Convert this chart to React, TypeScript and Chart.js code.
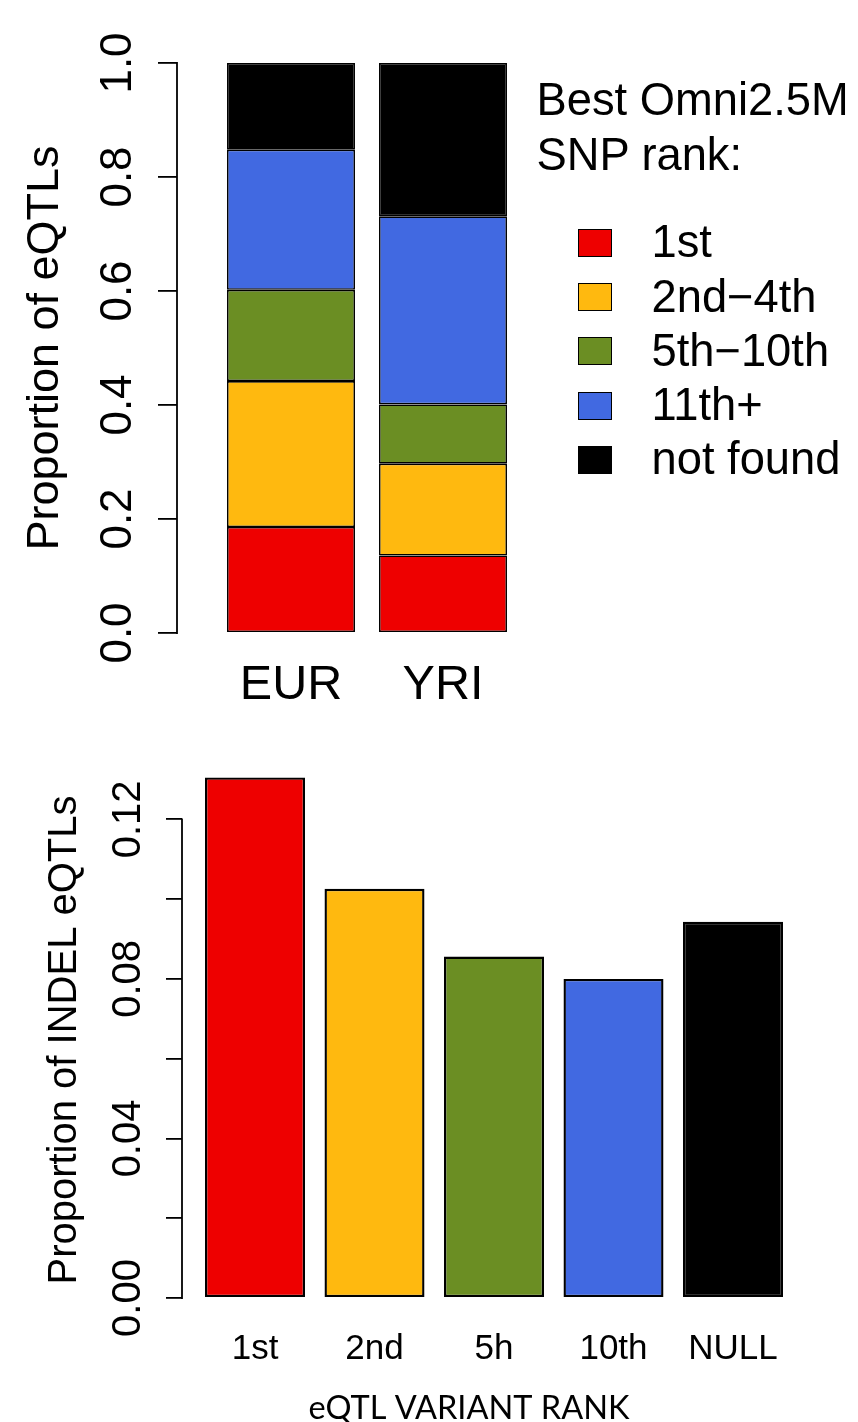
import React, { useEffect, useRef } from 'react';
import { Chart, registerables } from 'chart.js';

Chart.register(...registerables);
Chart.defaults.font.family = '"Liberation Sans", Arial, Helvetica, sans-serif';
Chart.defaults.color = '#000';

// ---------- Top panel: stacked proportions ----------
const populations = ['EUR', 'YRI'];
const rankLabels = ['1st', '2nd\u22124th', '5th\u221210th', '11th+', 'not found'];
const rankColors = ['#EE0000', '#FFB90F', '#6B8E23', '#4169E1', '#000000'];
const firstRank = [0.186, 0.136];
const secondToFourth = [0.256, 0.161];
const fifthToTenth = [0.16, 0.104];
const eleventhPlus = [0.246, 0.33];
const notFound = [0.152, 0.269];
const topTickLabels = ['0.0', '0.2', '0.4', '0.6', '0.8', '1.0'];
const legendTitle = ['Best Omni2.5M', 'SNP rank:'];

// ---------- Bottom panel: INDEL proportions ----------
const variantRanks = ['1st', '2nd', '5h', '10th', 'NULL'];
const indelProportions = [0.1305, 0.1026, 0.0856, 0.08, 0.0943];
const indelColors = ['#EE0000', '#FFB90F', '#6B8E23', '#4169E1', '#000000'];
const bottomTickLabels = ['0.00', '', '0.04', '', '0.08', '', '0.12'];

const axisLinePlugin = {
  id: 'rAxisLine',
  afterDraw(chart: any) {
    const y = chart.scales.y;
    const t = y.ticks;
    if (!t || !t.length) return;
    const ctx = chart.ctx;
    ctx.save();
    ctx.strokeStyle = '#000';
    ctx.lineWidth = 1.8;
    ctx.lineCap = 'square';
    ctx.beginPath();
    ctx.moveTo(y.right, y.getPixelForValue(t[0].value));
    ctx.lineTo(y.right, y.getPixelForValue(t[t.length - 1].value));
    ctx.stroke();
    ctx.restore();
  },
};

function topConfig(): any {
  const series = [firstRank, secondToFourth, fifthToTenth, eleventhPlus, notFound];
  return {
    type: 'bar',
    data: {
      datasets: series.map((vals, s) => ({
        label: rankLabels[s],
        data: vals.map((v, i) => ({ x: i, y: v })),
        backgroundColor: rankColors[s],
        borderColor: '#000',
        borderWidth: 1.6,
        borderSkipped: false,
        barPercentage: 0.842,
        categoryPercentage: 1,
        clip: false,
      })),
    },
    plugins: [axisLinePlugin],
    options: {
      responsive: false,
      animation: false,
      devicePixelRatio: 1,
      layout: { padding: { left: 0, top: 63, right: 323.8, bottom: 0 } },
      plugins: { legend: { display: false }, tooltip: { enabled: false } },
      scales: {
        x: {
          type: 'linear',
          stacked: true,
          offset: false,
          min: -0.75,
          max: 1.6,
          grid: { display: false, drawTicks: false, offset: false },
          border: { display: false },
          ticks: {
            stepSize: 1,
            includeBounds: false,
            autoSkip: false,
            maxRotation: 0,
            padding: 28,
            color: '#000',
            font: { size: 48.5, lineHeight: 1 },
            callback: (v: any) => populations[v] ?? '',
          },
          afterFit: (s: any) => {
            s.height = 87;
          },
        },
        y: {
          stacked: true,
          min: 0,
          max: 1,
          border: { display: false },
          grid: { display: true, drawOnChartArea: false, drawTicks: true, tickLength: 19, color: '#000', lineWidth: 1.8 },
          ticks: {
            stepSize: 0.2,
            autoSkip: false,
            minRotation: 90,
            maxRotation: 90,
            crossAlign: 'center',
            padding: 8.6,
            color: '#000',
            font: { size: 44, lineHeight: 1 },
            callback: (_v: any, i: number) => topTickLabels[i],
          },
          title: {
            display: true,
            text: 'Proportion of eQTLs',
            color: '#000',
            font: { size: 45, lineHeight: 1 },
            padding: { top: 22.6, bottom: 0 },
          },
          afterFit: (s: any) => {
            s.width = 177;
          },
        },
      },
    },
  };
}

function bottomConfig(): any {
  return {
    type: 'bar',
    data: {
      datasets: [
        {
          label: 'Proportion of INDEL eQTLs',
          data: indelProportions.map((v, i) => ({ x: i, y: v })),
          backgroundColor: indelColors,
          borderColor: '#000',
          borderWidth: 2.4,
          borderSkipped: false,
          barPercentage: 0.837,
          categoryPercentage: 1,
          clip: false,
        },
      ],
    },
    plugins: [axisLinePlugin],
    options: {
      responsive: false,
      animation: false,
      devicePixelRatio: 1,
      layout: { padding: { left: 0, top: 39.5, right: 102, bottom: 0 } },
      plugins: { legend: { display: false }, tooltip: { enabled: false } },
      scales: {
        x: {
          type: 'linear',
          offset: false,
          min: -0.611,
          max: 4.1925,
          grid: { display: false, drawTicks: false, offset: false },
          border: { display: false },
          ticks: {
            stepSize: 1,
            includeBounds: false,
            autoSkip: false,
            maxRotation: 0,
            padding: 11.6,
            color: '#000',
            font: { size: 35, lineHeight: 1 },
            callback: (v: any) => variantRanks[v] ?? '',
          },
          title: {
            display: true,
            text: 'eQTL VARIANT RANK',
            color: '#000',
            font: { family: 'Lato, "Open Sans", sans-serif', size: 32.5, lineHeight: 0.8 },
            padding: { top: 0, bottom: 0.9 },
          },
          afterFit: (s: any) => {
            s.height = 101.5;
          },
        },
        y: {
          min: -0.00564,
          max: 0.135,
          border: { display: false },
          grid: { display: true, drawOnChartArea: false, drawTicks: true, tickLength: 16, color: '#000', lineWidth: 1.8 },
          ticks: {
            stepSize: 0.02,
            includeBounds: false,
            autoSkip: false,
            minRotation: 90,
            maxRotation: 90,
            crossAlign: 'center',
            padding: -2.3,
            color: '#000',
            font: { size: 40, lineHeight: 1 },
            callback: (_v: any, i: number) => bottomTickLabels[i],
          },
          title: {
            display: true,
            text: 'Proportion of INDEL eQTLs',
            color: '#000',
            font: { size: 40, lineHeight: 1 },
            padding: { top: 45.4, bottom: 0 },
          },
          afterFit: (s: any) => {
            s.width = 182;
          },
        },
      },
    },
  };
}

const legendFont = '45.3px "Liberation Sans", Arial, Helvetica, sans-serif';

export default function App() {
  const topRef = useRef<HTMLCanvasElement>(null);
  const bottomRef = useRef<HTMLCanvasElement>(null);

  useEffect(() => {
    const c1 = new Chart(topRef.current as HTMLCanvasElement, topConfig());
    const c2 = new Chart(bottomRef.current as HTMLCanvasElement, bottomConfig());
    return () => {
      c1.destroy();
      c2.destroy();
    };
  }, []);

  return (
    <div style={{ position: 'absolute', left: 0, top: 0, width: 858, height: 1422, background: '#fff', overflow: 'hidden' }}>
      <canvas
        ref={topRef}
        width={858}
        height={720}
        style={{ position: 'absolute', left: 0, top: 0, width: 858, height: 720 }}
      />
      <canvas
        ref={bottomRef}
        width={858}
        height={702}
        style={{ position: 'absolute', left: 0, top: 720, width: 858, height: 702 }}
      />
      <div
        style={{
          position: 'absolute',
          left: 536.5,
          top: 71.5,
          font: legendFont,
          lineHeight: '55px',
          color: '#000',
          whiteSpace: 'nowrap',
        }}
      >
        {legendTitle.map((t) => (
          <div key={t}>{t}</div>
        ))}
      </div>
      {rankLabels.map((lab, i) => (
        <React.Fragment key={lab}>
          <div
            style={{
              position: 'absolute',
              left: 578,
              top: 228.5 + i * 54.4,
              width: 34,
              height: 28,
              boxSizing: 'border-box',
              border: '1.5px solid #000',
              background: rankColors[i],
            }}
          />
          <div
            style={{
              position: 'absolute',
              left: 651.5,
              top: 258.5 + i * 54.2 - 38.2,
              font: legendFont,
              lineHeight: '44px',
              color: '#000',
              whiteSpace: 'nowrap',
            }}
          >
            {lab}
          </div>
        </React.Fragment>
      ))}
    </div>
  );
}
